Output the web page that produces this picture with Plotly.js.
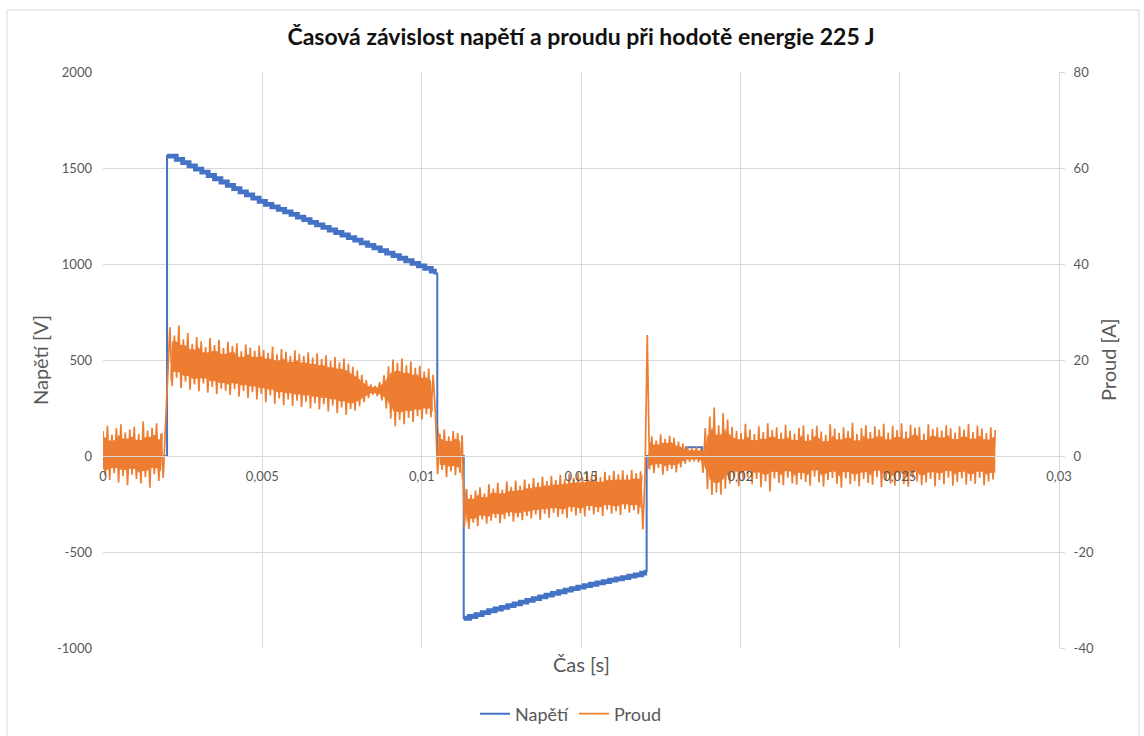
<!DOCTYPE html>
<html>
<head>
<meta charset="utf-8">
<script src="https://cdn.plot.ly/plotly-3.0.1.min.js"></script>
<style>html,body{margin:0;padding:0;background:#fff;overflow:hidden;}#chart{width:1144px;height:736px;}</style>
</head>
<body>
<div id="chart"></div>
<script>
// ---- DATA ----
const chartTitle = "Časová závislost napětí a proudu při hodotě energie 225 J";
const seriesNames = ["Napětí", "Proud"];
const xTitle = "Čas [s]";
const yTitle = "Napětí [V]";
const y2Title = "Proud [A]";

// Napětí [V] — step breakpoints (time in s)
const casNapeti = [0, 0.00201, 0.0023, 0.0025, 0.0027, 0.0029, 0.0031, 0.0033, 0.0035, 0.0037, 0.0039,
  0.0041, 0.0043, 0.0045, 0.0047, 0.0049, 0.0051, 0.0053, 0.0055, 0.0057, 0.0059,
  0.0061, 0.0063, 0.0065, 0.0067, 0.0069, 0.0071, 0.0073, 0.0075, 0.0077, 0.0079,
  0.0081, 0.0083, 0.0085, 0.0087, 0.0089, 0.0091, 0.0093, 0.0095, 0.0097, 0.0099,
  0.0101, 0.0103, 0.0104, 0.01049,
  0.01132, 0.0115, 0.0117, 0.0119, 0.0121, 0.0123, 0.0125, 0.0127, 0.0129, 0.0131,
  0.0133, 0.0135, 0.0137, 0.0139, 0.0141, 0.0143, 0.0145, 0.0147, 0.0149, 0.0151,
  0.0153, 0.0155, 0.0157, 0.0159, 0.0161, 0.0163, 0.0165, 0.0167, 0.0169, 0.0170,
  0.01706, 0.0183, 0.0188, 0.028];
const napeti = [0, 1562, 1545, 1528, 1511, 1494, 1478, 1461, 1444, 1427, 1410,
  1393, 1376, 1360, 1343, 1326, 1311, 1298, 1284, 1271, 1258,
  1244, 1231, 1217, 1204, 1191, 1177, 1164, 1151, 1137, 1124,
  1110, 1097, 1084, 1070, 1057, 1044, 1030, 1017, 1003, 990,
  977, 963, 950, 0,
  -845, -836, -826, -816, -806, -797, -788, -779, -770, -761,
  -752, -743, -734, -725, -716, -707, -699, -691, -683, -675,
  -668, -661, -654, -647, -640, -633, -626, -619, -610, -598,
  0, 45, 0, 0];

// Proud [A] — samples every 0.07 ms from t = 0
const dtProud = 0.00007;
const proud = [
  5.2, -4.1, 6.3, -5.0, 4.4, -3.6, 5.8, -5.5, 6.6, -4.2, 4.9, -6.1, 5.5, -3.9, 6.1, -4.8, 4.6, -5.7, 7.2, -4.4,
  5.3, -6.6, 5.9, -3.8, 6.8, -5.2, 4.7, -4.6, 6.2,
  15.2, 26.8, 14.6, 25.1, 16.3, 27.2, 14.1, 24.3, 15.5, 25.6, 13.8, 23.4, 14.9, 24.8, 13.5, 23.9, 15.1, 22.7, 13.2, 24.6,
  14.4, 23.1, 12.9, 24.2, 14.0, 22.5, 13.6, 23.8, 12.7, 22.9, 13.9, 23.5, 12.4, 21.8, 13.5, 23.2, 12.1, 22.6, 13.3, 21.9,
  11.8, 23.0, 12.9, 22.1, 11.2, 21.5, 12.6, 22.8, 10.9, 21.2, 12.0, 22.3, 10.6, 21.7, 11.8, 20.9, 10.4, 22.0, 11.5, 21.3,
  10.2, 20.8, 11.3, 21.6, 9.9, 20.5, 11.0, 21.4, 9.7, 20.2, 10.8, 21.0, 9.3, 19.8, 10.5, 20.6, 8.9, 19.5, 10.1, 20.3,
  8.6, 19.2, 9.8, 18.6, 9.5, 17.8, 10.4, 16.9, 11.2, 15.8, 12.1, 14.9, 12.8, 14.6, 12.5, 15.4, 11.6, 16.8, 9.9, 18.7,
  7.8, 20.1, 6.2, 19.4, 7.5, 20.3, 6.6, 18.9, 7.9, 19.7, 7.1, 18.4, 8.3, 18.8, 7.6, 17.6, 8.7, 18.2, 8.1, 16.9, 9.0,
  -3.8, 4.6, -2.9, 5.5, -4.4, 4.1, -3.2, 5.2, -4.0, 4.8, -3.5, 4.3,
  -14.8, -6.9, -15.2, -8.1, -13.9, -7.2, -14.6, -6.5, -13.2, -7.8, -14.1, -5.9, -13.5, -6.8, -12.9, -5.6, -14.0, -7.0,
  -13.1, -5.3, -12.6, -6.4, -13.7, -5.1, -12.8, -6.2, -13.4, -4.9, -12.5, -5.8, -13.0, -4.6, -12.2, -5.5, -13.3, -4.3,
  -12.0, -5.2, -12.9, -4.1, -11.8, -5.0, -12.7, -3.9, -12.1, -4.8, -12.9, -3.7, -11.6, -4.6, -12.4, -3.5, -11.9, -4.5,
  -12.6, -3.4, -11.4, -4.2, -12.2, -3.2, -11.7, -4.4, -12.5, -3.3, -11.2, -4.0, -12.0, -3.1, -11.5, -3.8, -12.3, -3.0,
  -11.1, -3.9, -11.8, -2.9, -11.3, -3.6, -12.1, -3.2, -15.3, -3.7,
  25.2,
  -2.8, 4.1, -3.6, 3.2, -2.5, 4.5, -3.9, 3.6, -3.1, 4.2, -2.7, 3.8, -3.4, 3.0, -2.4, 2.6,
  -1.6, 1.9, -1.2, 1.6, -1.1, 1.8, -1.3, 1.5,
  -3.5, 5.8, -6.9, 8.2, -8.1, 10.1, -7.6, 6.4, -8.0, 8.9, -6.8, 7.6,
  -5.8, 6.1, -4.6, 5.2, -6.3, 4.8, -5.1, 6.7, -4.4, 5.5, -5.9, 4.6, -4.8, 6.2, -6.5, 5.0, -5.3, 6.8, -7.4, 5.4,
  -4.7, 6.0, -5.6, 4.9, -6.1, 6.5, -4.5, 5.3, -5.7, 4.7, -6.0, 5.9, -4.9, 6.4, -5.4, 4.5, -6.2, 5.6, -4.3, 6.3,
  -5.5, 5.1, -6.4, 4.4, -5.0, 6.6, -4.6, 5.7, -5.8, 4.8, -6.6, 6.0, -4.7, 5.2, -5.9, 6.9, -5.2, 4.6, -6.3, 5.8,
  -4.8, 6.4, -5.6, 5.0, -6.0, 6.2, -4.4, 5.5, -6.5, 6.7, -5.1, 4.9, -5.7, 6.3, -6.2, 5.4, -4.9, 6.8, -5.8, 5.1,
  -6.4, 6.5, -4.6, 5.9, -5.3, 6.1, -6.1, 4.7, -5.5, 6.6, -4.8, 5.6, -6.3, 6.0, -5.0, 5.3, -5.9, 6.4, -4.5, 5.8,
  -6.2, 4.9, -5.4, 6.2, -4.7, 5.5, -6.0, 6.7, -5.2, 5.0, -5.8, 6.3, -4.6, 5.7, -6.1, 4.8, -5.3, 6.0, -4.9, 5.4
];

// Axis ticks
const xTickVals = [0, 0.005, 0.01, 0.015, 0.02, 0.025, 0.03];
const yTickVals = [-1000, -500, 0, 500, 1000, 1500, 2000];
const yTickText = ["-1000", "-500", "0", "500", "1000", "1500", "2000"];
const y2TickVals = [-40, -20, 0, 20, 40, 60, 80];
const y2TickText = ["-40", "-20", "0", "20", "40", "60", "80"];

// ---- STYLE ----
const BLUE = "#4472C4", ORANGE = "#ED7D31", GRID = "#D9D9D9", TXT = "#595959";
const FONT = "Lato, 'Open Sans', sans-serif";

const casProud = proud.map((_, i) => i * dtProud);
const napetiThick = napeti.map(v => (v === 0 ? null : v));

// dense core of the noisy current band (derived from the samples' local peaks)
const n = proud.length;
const segHi = [], segLo = [];
for (let i = 0; i < n - 1; i++) {
  segHi.push(Math.max(proud[i], proud[i + 1]));
  segLo.push(Math.min(proud[i], proud[i + 1]));
}
const coreTop = [], coreBot = [];
for (let i = 0; i < n; i++) {
  let t = Infinity, b = -Infinity;
  for (let j = Math.max(0, i - 2); j <= Math.min(n - 2, i + 1); j++) {
    t = Math.min(t, segHi[j]);
    b = Math.max(b, segLo[j]);
  }
  if (t < b) { const m = (t + b) / 2; t = m; b = m; }
  const shrink = 0.14 * (t - b);
  coreTop.push(t - shrink); coreBot.push(b + shrink);
}

const traces = [
  { x: casNapeti, y: napeti, name: seriesNames[0], type: "scatter", mode: "lines",
    line: { color: BLUE, width: 2, shape: "hv" }, yaxis: "y" },
  { x: casNapeti, y: napetiThick, name: seriesNames[0], type: "scatter", mode: "lines",
    line: { color: BLUE, width: 4.8, shape: "hv" }, connectgaps: false, showlegend: false, yaxis: "y" },
  { x: casProud, y: coreBot, type: "scatter", mode: "lines", line: { width: 0, color: ORANGE },
    showlegend: false, yaxis: "y2" },
  { x: casProud, y: coreTop, type: "scatter", mode: "lines", line: { width: 0, color: ORANGE },
    fill: "tonexty", fillcolor: ORANGE, showlegend: false, yaxis: "y2" },
  { x: casProud, y: proud, name: seriesNames[1], type: "scatter", mode: "lines",
    line: { color: ORANGE, width: 1.7 }, yaxis: "y2" }
];

const W = 1144, H = 736, L = 103, R = 85, T = 72, B = 88;
const PW = W - L - R, PH = H - T - B;
const px = v => (v - L) / PW;          // pixel -> paper x
const py = v => (H - B - v) / PH;      // pixel -> paper y

const layout = {
  width: W, height: H,
  margin: { l: L, r: R, t: T, b: B, autoexpand: false },
  paper_bgcolor: "#fff", plot_bgcolor: "#fff",
  separators: ", ",
  font: { family: FONT, color: TXT, size: 13 },
  title: { text: "<b>" + chartTitle + "</b>", font: { family: FONT, size: 23, color: "#111" },
           x: 0.5, xref: "paper", xanchor: "center", y: 1 - 37 / H, yref: "container", yanchor: "middle" },
  showlegend: true,
  legend: { orientation: "h", traceorder: "normal", x: px(571), xanchor: "center", y: py(714), yanchor: "middle",
            font: { family: FONT, size: 18, color: TXT }, itemwidth: 30, bgcolor: "rgba(0,0,0,0)" },
  xaxis: {
    range: [0, 0.03], tickvals: xTickVals, showgrid: true, gridcolor: GRID, gridwidth: 1,
    zeroline: false, showline: true, linecolor: GRID, linewidth: 1,
    anchor: "free", position: 1 / 3, ticks: "", ticklabelstandoff: 8,
    tickfont: { family: FONT, size: 13, color: TXT }
  },
  yaxis: {
    range: [-1000, 2000], tickvals: yTickVals, ticktext: yTickText, showgrid: true, gridcolor: GRID,
    zeroline: false, showline: false, ticks: "", ticklabelstandoff: 10,
    tickfont: { family: FONT, size: 13, color: TXT }
  },
  yaxis2: {
    range: [-40, 80], tickvals: y2TickVals, ticktext: y2TickText, overlaying: "y", side: "right",
    showgrid: false, zeroline: false, showline: true, linecolor: GRID, ticks: "outside", ticklen: 5,
    tickcolor: GRID, ticklabelstandoff: 6, tickfont: { family: FONT, size: 13, color: TXT }
  },
  annotations: [
    { text: xTitle, xref: "paper", yref: "paper", x: 0.5, y: py(664), xanchor: "center", yanchor: "middle",
      showarrow: false, font: { family: FONT, size: 20, color: TXT } },
    { text: yTitle, xref: "paper", yref: "paper", x: px(40), y: 0.5, xanchor: "center", yanchor: "middle",
      textangle: -90, showarrow: false, font: { family: FONT, size: 20, color: TXT } },
    { text: y2Title, xref: "paper", yref: "paper", x: px(1108), y: 0.5, xanchor: "center", yanchor: "middle",
      textangle: -90, showarrow: false, font: { family: FONT, size: 20, color: TXT } }
  ],
  shapes: [
    { type: "rect", xref: "paper", yref: "paper", x0: px(7), x1: px(1139), y0: py(745), y1: py(10),
      line: { color: GRID, width: 1 }, fillcolor: "rgba(0,0,0,0)", layer: "below" }
  ]
};

Plotly.newPlot("chart", traces, layout, { staticPlot: true, displayModeBar: false });
</script>
</body>
</html>
